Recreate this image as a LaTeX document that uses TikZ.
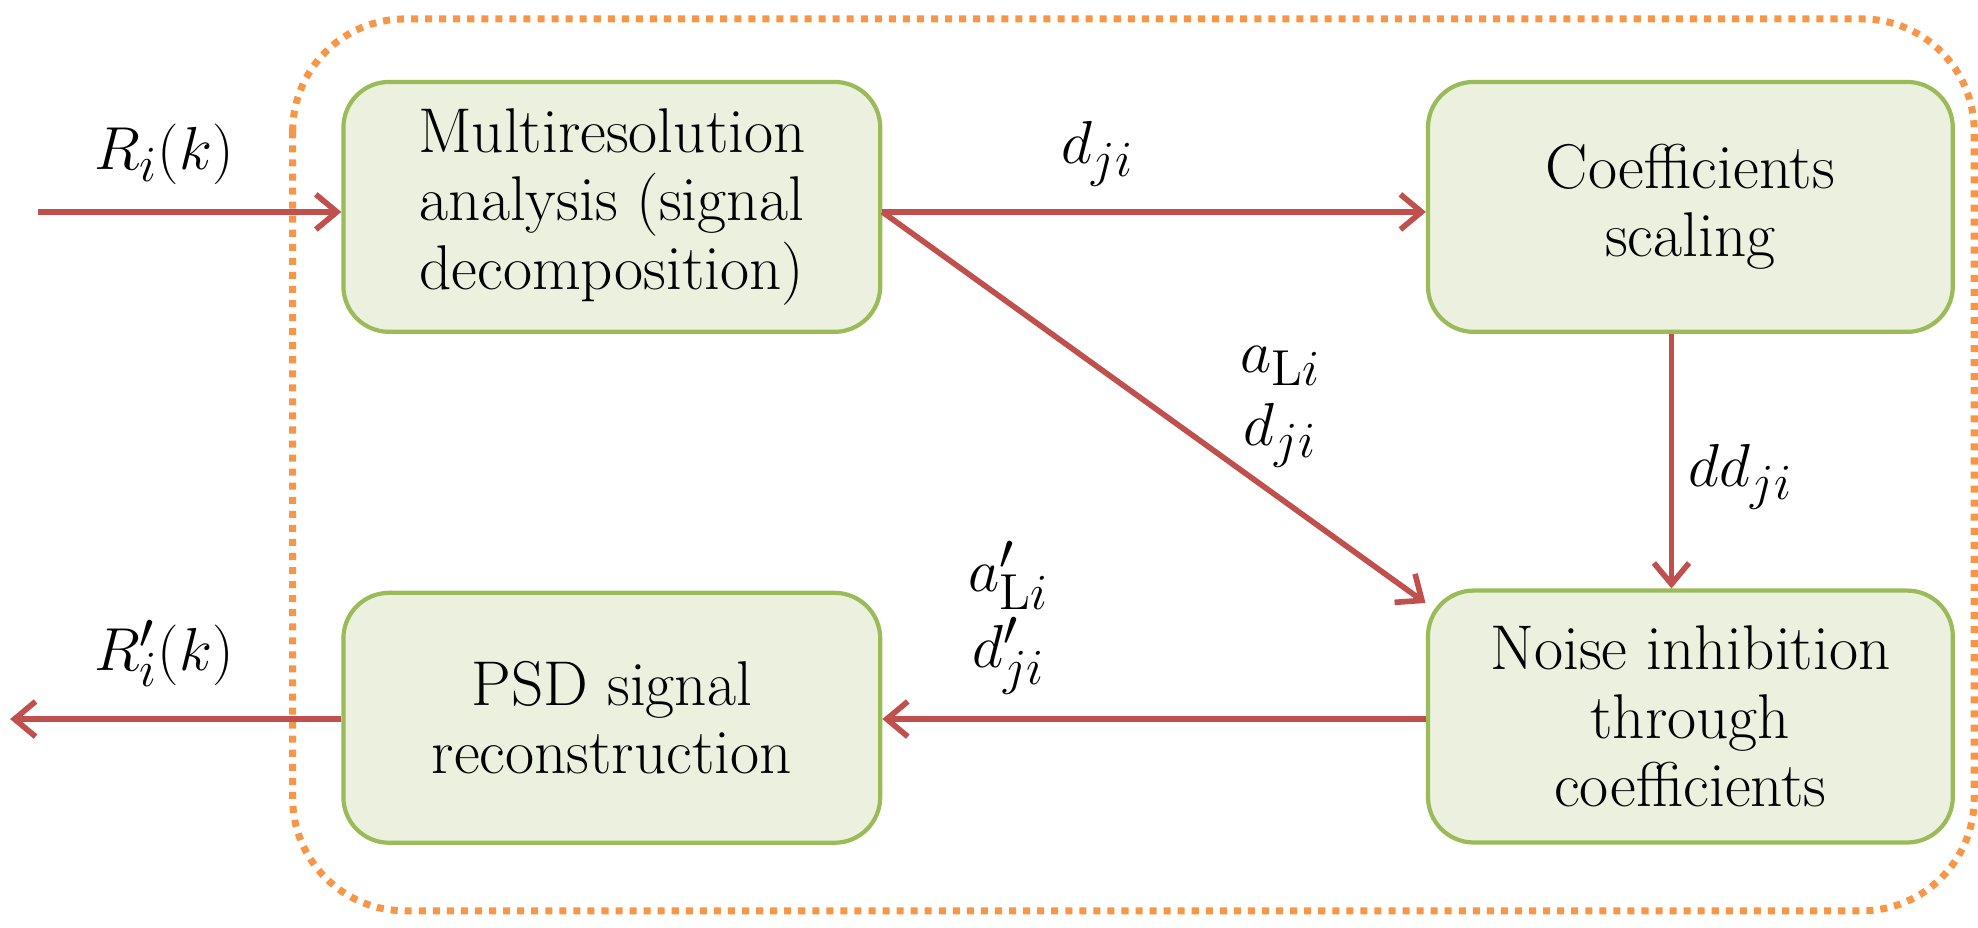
\documentclass[tikz,border=0pt]{standalone}
\usetikzlibrary{arrows.meta}
\begin{document}
\definecolor{boxfill}{HTML}{EBF1DE}
\definecolor{boxline}{HTML}{9BBB59}
\definecolor{arr}{HTML}{C0504D}
\definecolor{orng}{HTML}{F79646}
\begin{tikzpicture}[x=0.012615cm,y=-0.012615cm,
  box/.style={draw=boxline,line width=1.2pt,fill=boxfill,rounded corners=13pt,align=center,
    font=\fontsize{18}{19.5}\selectfont,minimum height=2.5cm,inner sep=0pt},
  con/.style={draw=arr,line width=1.6pt,-{Straight Barb[length=6pt,width=10pt]}},
  lab/.style={font=\fontsize{19}{20}\selectfont}]
\useasboundingbox (0,0) rectangle (1568,735);
\draw[orng,line width=2pt,dotted,rounded corners=32pt] (232,15) rectangle (1565,722);
\node[box,minimum width=5.37cm] (m) at (485,164) {Multiresolution\\analysis (signal\\decomposition)};
\node[box,minimum width=5.25cm] (c) at (1340,164) {Coefficients\\scaling};
\node[box,minimum width=5.25cm,minimum height=2.52cm] (n) at (1340,568) {Noise inhibition\\through\\coefficients};
\node[box,minimum width=5.37cm] (p) at (485,569) {PSD signal\\reconstruction};
\coordinate (in) at (30,168);
\coordinate (out) at (8,570);
\draw[con] (in) -- (m.west|-in);
\draw[con] (m.east|-in) -- (c.west|-in);
\draw[con] (m.east|-in) -- (1130,478);
\draw[con] (c.south-|1325,0) -- (n.north-|1325,0);
\draw[con] (n.west|-out) -- (p.east|-out);
\draw[con] (p.west|-out) -- (out);
\node[lab] (l1) at (130,122) {$R_i(k)$};
\node[lab] (l2) at (870,122) {$d_{ji}$};
\node[lab] (l3) at (1015,290) {$a_{\mathrm{L}i}$};
\node[lab] (l4) at (1015,345) {$d_{ji}$};
\node[lab] (l5) at (1380,378) {$dd_{ji}$};
\node[lab] (l6) at (800,456) {$a'_{\mathrm{L}i}$};
\node[lab] (l7) at (800,520) {$d'_{ji}$};
\node[lab] (l8) at (130,518) {$R'_i(k)$};
\end{tikzpicture}
\end{document}
